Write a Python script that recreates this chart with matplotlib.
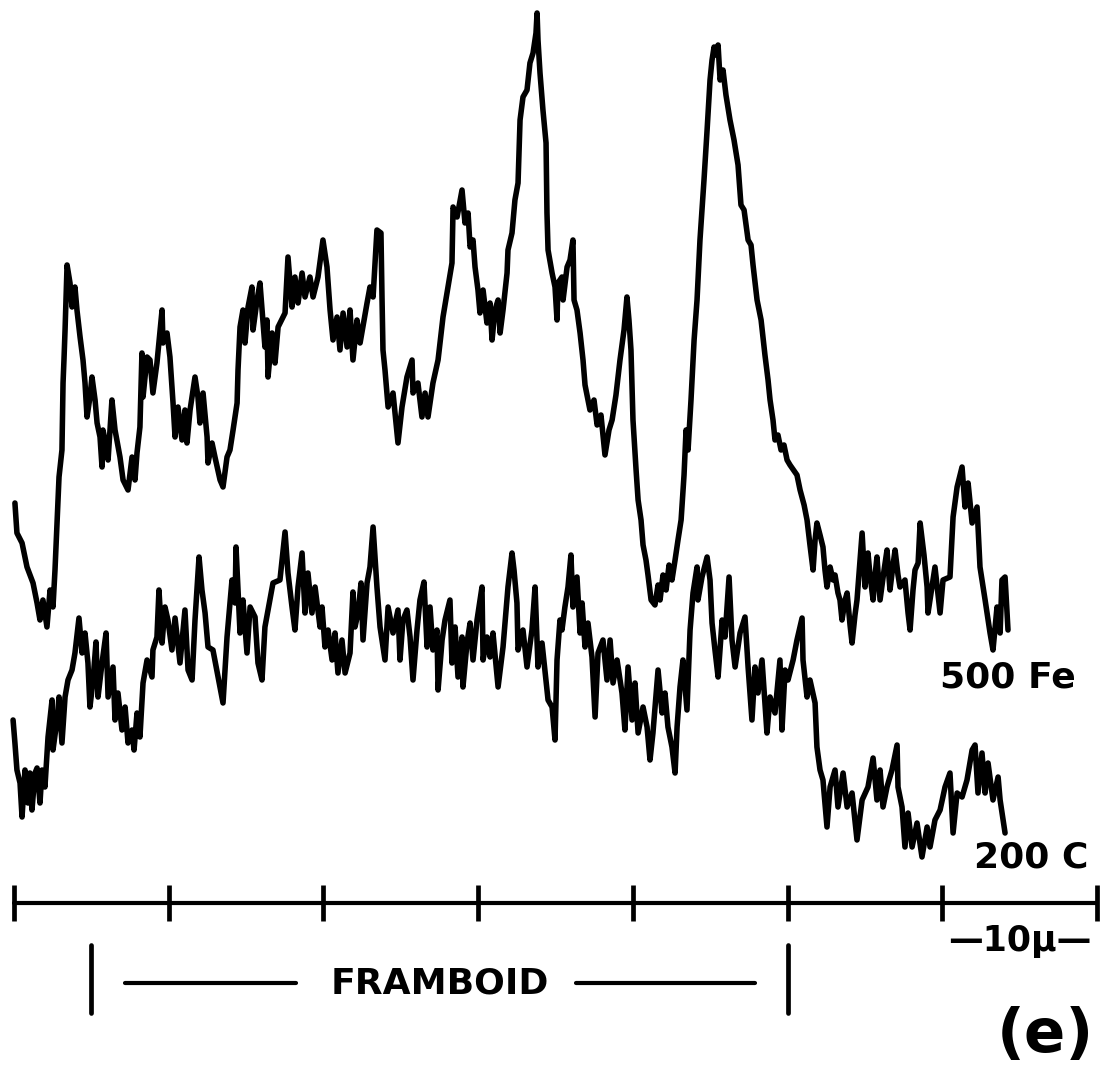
import matplotlib
matplotlib.use("Agg")
import matplotlib.pyplot as plt

# ---- data: scan position (micrometres) and intensity (arbitrary counts) ----
fe_500 = [
    (0.06, 400), (0.19, 370), (0.52, 360), (0.84, 336), (1.23, 320), (1.49, 300), (1.68, 283), (1.87, 303),
    (2.13, 276), (2.33, 313), (2.52, 296), (2.65, 333), (2.84, 400), (2.91, 426), (3.10, 453), (3.17, 520),
    (3.23, 543), (3.30, 573), (3.43, 638), (3.62, 620), (3.75, 596), (3.94, 616), (4.07, 593), (4.27, 566),
    (4.46, 543), (4.59, 520), (4.72, 486), (4.91, 506), (5.04, 526), (5.24, 503), (5.37, 480), (5.56, 466),
    (5.69, 436), (5.75, 473), (6.01, 453), (6.08, 443), (6.33, 503), (6.53, 473), (6.85, 446), (7.05, 423),
    (7.37, 413), (7.63, 446), (7.82, 423), (7.95, 450), (8.14, 476), (8.27, 550), (8.34, 506), (8.60, 546),
    (8.79, 543), (8.98, 510), (9.24, 540), (9.57, 593), (9.63, 560), (9.89, 570), (10.08, 546), (10.28, 500),
    (10.41, 466), (10.60, 496), (10.86, 463), (11.05, 493), (11.18, 460), (11.38, 493), (11.70, 526), (11.89, 506),
    (12.02, 480), (12.22, 510), (12.48, 466), (12.54, 440), (12.80, 460), (12.99, 446), (13.32, 423), (13.51, 416),
    (13.77, 446), (13.96, 453), (14.16, 473), (14.42, 500), (14.48, 533), (14.61, 576), (14.80, 593), (14.93, 560),
    (15.13, 596), (15.38, 616), (15.45, 573), (15.71, 603), (15.90, 620), (16.10, 580), (16.22, 556), (16.35, 583),
    (16.42, 526), (16.68, 570), (16.87, 540), (17.07, 576), (17.52, 590), (17.71, 646), (17.97, 596), (18.16, 626),
    (18.36, 600), (18.62, 630), (18.81, 606), (19.13, 626), (19.33, 606), (19.65, 626), (19.97, 663), (20.23, 636),
    (20.43, 593), (20.62, 563), (20.88, 586), (21.07, 553), (21.27, 590), (21.53, 556), (21.72, 593), (21.91, 543),
    (22.17, 583), (22.37, 560), (22.82, 600), (23.01, 616), (23.21, 606), (23.46, 673), (23.72, 670), (23.79, 603),
    (23.85, 553), (23.98, 533), (24.18, 496), (24.50, 510), (24.82, 460), (25.08, 496), (25.40, 526), (25.73, 543),
    (25.79, 510), (26.11, 520), (26.37, 486), (26.57, 510), (26.76, 486), (27.08, 520), (27.41, 543), (27.73, 586),
    (27.99, 610), (28.31, 640), (28.38, 696), (28.64, 686), (28.96, 713), (29.15, 680), (29.35, 690), (29.48, 656),
    (29.67, 663), (29.80, 636), (29.99, 613), (30.12, 590), (30.32, 613), (30.57, 580), (30.77, 600), (30.90, 563),
    (31.09, 593), (31.29, 603), (31.42, 570), (31.61, 593), (31.87, 630), (31.93, 653), (32.19, 670), (32.38, 703),
    (32.58, 720), (32.71, 783), (32.90, 806), (33.16, 813), (33.35, 840), (33.55, 850), (33.74, 870), (33.81, 890),
    (33.87, 863), (34.00, 830), (34.19, 793), (34.39, 760), (34.42, 723), (34.45, 690), (34.52, 653), (34.78, 630),
    (34.97, 616), (35.10, 583), (35.16, 620), (35.42, 626), (35.49, 603), (35.75, 636), (35.94, 643), (36.13, 663),
    (36.20, 603), (36.39, 593), (36.59, 570), (36.78, 543), (36.91, 518), (37.23, 493), (37.49, 503), (37.69, 478),
    (37.94, 488), (38.20, 448), (38.46, 473), (38.66, 483), (38.91, 508), (39.17, 543), (39.43, 573), (39.62, 606),
    (39.75, 583), (39.88, 553), (40.01, 483), (40.21, 433), (40.34, 403), (40.53, 383), (40.66, 358), (40.85, 343),
    (40.98, 328), (41.18, 303), (41.43, 298), (41.63, 318), (41.76, 303), (41.95, 328), (42.15, 313), (42.34, 338),
    (42.53, 323), (42.73, 343), (42.92, 363), (43.12, 383), (43.31, 428), (43.44, 473), (43.57, 453), (43.76, 503),
    (43.96, 563), (44.15, 603), (44.34, 663), (44.60, 723), (44.80, 773), (44.99, 823), (45.12, 843), (45.25, 856),
    (45.38, 848), (45.51, 858), (45.64, 823), (45.83, 833), (46.02, 808), (46.28, 783), (46.54, 763), (46.80, 738),
    (46.99, 698), (47.19, 693), (47.45, 663), (47.64, 658), (47.77, 638), (48.03, 603), (48.29, 583), (48.54, 548),
    (48.74, 523), (48.87, 503), (49.06, 483), (49.19, 463), (49.38, 468), (49.58, 453), (49.77, 458), (49.97, 443),
    (50.16, 438), (50.61, 428), (50.81, 413), (51.07, 398), (51.26, 383), (51.45, 358), (51.65, 333), (51.78, 363),
    (51.90, 380), (52.10, 368), (52.29, 356), (52.42, 333), (52.55, 316), (52.75, 336), (52.94, 323), (53.07, 328),
    (53.26, 310), (53.39, 303), (53.52, 283), (53.72, 303), (53.85, 310), (54.04, 278), (54.17, 260), (54.36, 288),
    (54.49, 303), (54.69, 343), (54.82, 370), (55.01, 316), (55.20, 350), (55.33, 328), (55.53, 303), (55.66, 328),
    (55.78, 346), (55.98, 303), (56.24, 333), (56.43, 353), (56.62, 313), (56.82, 338), (56.95, 353), (57.14, 328),
    (57.27, 316), (57.59, 323), (57.79, 290), (57.92, 273), (58.11, 313), (58.24, 333), (58.44, 340), (58.57, 380),
    (58.82, 348), (59.02, 316), (59.08, 290), (59.53, 336), (59.86, 290), (60.05, 323), (60.50, 326), (60.70, 386),
    (60.96, 416), (61.28, 436), (61.47, 396), (61.67, 420), (61.93, 380), (62.25, 396), (62.44, 336), (62.77, 303),
    (63.09, 270), (63.28, 253), (63.54, 296), (63.74, 270), (63.86, 323), (64.06, 326), (64.25, 273),
]

c_200 = [
    (-0.06, 183), (0.06, 160), (0.19, 133), (0.39, 120), (0.52, 86), (0.71, 133), (0.90, 100), (1.03, 130),
    (1.16, 93), (1.36, 130), (1.49, 135), (1.68, 100), (1.81, 133), (2.00, 116), (2.20, 166), (2.46, 203),
    (2.52, 153), (2.78, 183), (2.91, 206), (3.10, 160), (3.30, 206), (3.49, 223), (3.75, 233), (3.94, 250),
    (4.20, 285), (4.40, 250), (4.59, 270), (4.78, 240), (4.91, 196), (5.11, 223), (5.30, 261), (5.43, 206),
    (5.69, 240), (5.95, 270), (6.08, 206), (6.40, 236), (6.53, 183), (6.72, 210), (6.98, 173), (7.18, 196),
    (7.37, 160), (7.63, 173), (7.76, 153), (7.95, 190), (8.14, 166), (8.34, 220), (8.60, 243), (8.92, 226),
    (8.98, 253), (9.24, 266), (9.37, 313), (9.57, 260), (9.76, 296), (9.95, 283), (10.21, 253), (10.41, 285),
    (10.73, 240), (11.05, 293), (11.25, 233), (11.51, 223), (11.70, 283), (11.96, 346), (12.15, 313), (12.35, 290),
    (12.54, 256), (12.86, 253), (13.19, 226), (13.51, 200), (13.77, 266), (14.09, 323), (14.29, 300), (14.35, 356),
    (14.61, 270), (14.80, 303), (15.06, 250), (15.26, 296), (15.58, 286), (15.77, 240), (16.03, 223), (16.22, 276),
    (16.42, 293), (16.74, 320), (17.19, 323), (17.52, 371), (17.71, 330), (17.97, 296), (18.16, 273), (18.36, 316),
    (18.62, 350), (18.81, 290), (19.00, 330), (19.26, 290), (19.46, 316), (19.78, 276), (19.91, 296), (20.10, 256),
    (20.30, 273), (20.56, 243), (20.75, 270), (20.94, 230), (21.20, 263), (21.40, 230), (21.72, 250), (21.91, 311),
    (22.04, 276), (22.24, 290), (22.43, 320), (22.56, 263), (22.82, 320), (23.01, 336), (23.21, 376), (23.46, 316),
    (23.66, 276), (23.98, 243), (24.18, 296), (24.50, 270), (24.82, 293), (24.95, 243), (25.14, 283), (25.40, 293),
    (25.60, 266), (25.79, 223), (26.05, 273), (26.24, 303), (26.50, 321), (26.70, 256), (26.89, 296), (27.08, 253),
    (27.34, 273), (27.41, 213), (27.67, 263), (27.86, 283), (28.18, 303), (28.31, 240), (28.51, 276), (28.70, 226),
    (28.96, 266), (29.02, 216), (29.28, 260), (29.48, 280), (29.67, 243), (29.93, 283), (30.25, 316), (30.32, 243),
    (30.57, 266), (30.77, 246), (30.96, 270), (31.29, 216), (31.61, 256), (31.93, 316), (32.19, 350), (32.32, 333),
    (32.51, 300), (32.58, 253), (32.90, 273), (33.16, 236), (33.48, 273), (33.68, 316), (33.87, 236), (34.13, 260),
    (34.52, 203), (34.78, 196), (34.97, 163), (35.10, 243), (35.29, 283), (35.42, 273), (35.61, 296), (35.81, 316),
    (36.00, 348), (36.13, 296), (36.39, 326), (36.59, 270), (36.72, 300), (36.91, 256), (37.10, 280), (37.36, 246),
    (37.56, 186), (37.75, 250), (38.07, 263), (38.33, 223), (38.53, 263), (38.72, 220), (38.98, 243), (39.30, 210),
    (39.49, 173), (39.69, 236), (39.95, 183), (40.14, 220), (40.34, 170), (40.66, 196), (40.92, 176), (41.11, 143),
    (41.30, 170), (41.63, 233), (41.89, 190), (42.08, 210), (42.27, 176), (42.53, 156), (42.73, 130), (42.86, 176),
    (43.05, 216), (43.24, 243), (43.50, 193), (43.70, 273), (43.89, 310), (44.15, 336), (44.21, 303), (44.47, 326),
    (44.80, 346), (44.99, 323), (45.12, 280), (45.31, 253), (45.51, 226), (45.77, 283), (45.96, 266), (46.22, 326),
    (46.41, 263), (46.61, 236), (46.93, 270), (47.25, 286), (47.45, 236), (47.70, 183), (47.90, 236), (48.09, 210),
    (48.35, 243), (48.67, 170), (48.87, 206), (49.19, 190), (49.51, 243), (49.64, 173), (49.84, 233), (50.03, 223),
    (50.36, 243), (50.61, 263), (50.94, 285), (51.00, 243), (51.26, 206), (51.45, 223), (51.78, 200), (51.90, 156),
    (52.10, 133), (52.29, 123), (52.55, 76), (52.75, 116), (53.07, 133), (53.26, 96), (53.59, 130), (53.85, 96),
    (54.17, 110), (54.49, 63), (54.82, 103), (55.20, 116), (55.53, 145), (55.78, 103), (55.98, 133), (56.17, 96),
    (56.43, 116), (56.75, 133), (57.08, 158), (57.14, 116), (57.40, 96), (57.59, 56), (57.79, 90), (58.05, 56),
    (58.37, 80), (58.69, 46), (59.02, 76), (59.21, 56), (59.53, 83), (59.86, 93), (60.18, 116), (60.50, 130),
    (60.70, 70), (60.96, 110), (61.28, 106), (61.60, 123), (61.93, 153), (62.12, 158), (62.31, 110), (62.57, 150),
    (62.77, 110), (62.96, 140), (63.28, 103), (63.61, 126), (63.74, 103), (64.06, 70),
]

scale_ticks = [0, 10, 20, 30, 40, 50, 60, 70]   # micrometres
framboid_span = [5.0, 50.0]                       # micrometres
trace_labels = ["500 Fe", "200 C"]
scale_label = "\u201410\u03bc\u2014"
framboid_label = "FRAMBOID"
panel_label = "(e)"

# ---- figure ----
fig = plt.figure(figsize=(11.05, 10.71), dpi=100)
ax = fig.add_axes([0, 0, 1, 1])
ax.set_xlim(-0.905, 70.52)
ax.set_ylim(-168, 903)

ink = "black"
fx, fy = zip(*fe_500)
cx, cy = zip(*c_200)
ax.plot(fx, fy, color=ink, lw=4.0, solid_joinstyle="round", solid_capstyle="round")
ax.plot(cx, cy, color=ink, lw=4.0, solid_joinstyle="round", solid_capstyle="round")

# scale bar: the x axis itself
for side in ("top", "left", "right"):
    ax.spines[side].set_visible(False)
ax.spines["bottom"].set_position(("data", 0))
ax.spines["bottom"].set_bounds(scale_ticks[0], scale_ticks[-1])
ax.spines["bottom"].set_linewidth(3.0)
ax.spines["bottom"].set_capstyle("round")
ax.set_xticks(scale_ticks)
ax.set_xticklabels([])
ax.tick_params(axis="x", direction="inout", length=26, width=3.4, color=ink)
ax.set_yticks([])

# framboid extent
ax.vlines(framboid_span, -110, -42, color=ink, lw=3.4, capstyle="round")
mid = (framboid_span[0] + framboid_span[1]) / 2
ax.hlines(-80, framboid_span[0] + 2.2, mid - 9.3, color=ink, lw=3.0, capstyle="round")
ax.hlines(-80, mid + 8.8, framboid_span[1] - 2.1, color=ink, lw=3.0, capstyle="round")
ax.text(mid, -80, framboid_label, ha="center", va="center", fontsize=26,
        fontweight="bold", family="DejaVu Sans")

# labels
ax.text(68.6, 225, trace_labels[0], ha="right", va="center", fontsize=26,
        fontweight="bold", family="DejaVu Sans")
ax.text(69.45, 46, trace_labels[1], ha="right", va="center", fontsize=26,
        fontweight="bold", family="DejaVu Sans")
ax.text(65.0, -38, scale_label, ha="center", va="center", fontsize=25,
        fontweight="bold", family="DejaVu Sans")
ax.text(69.8, -132, panel_label, ha="right", va="center", fontsize=44,
        fontweight="bold", family="DejaVu Sans")

fig.savefig("out.png", dpi=100, facecolor="white")
